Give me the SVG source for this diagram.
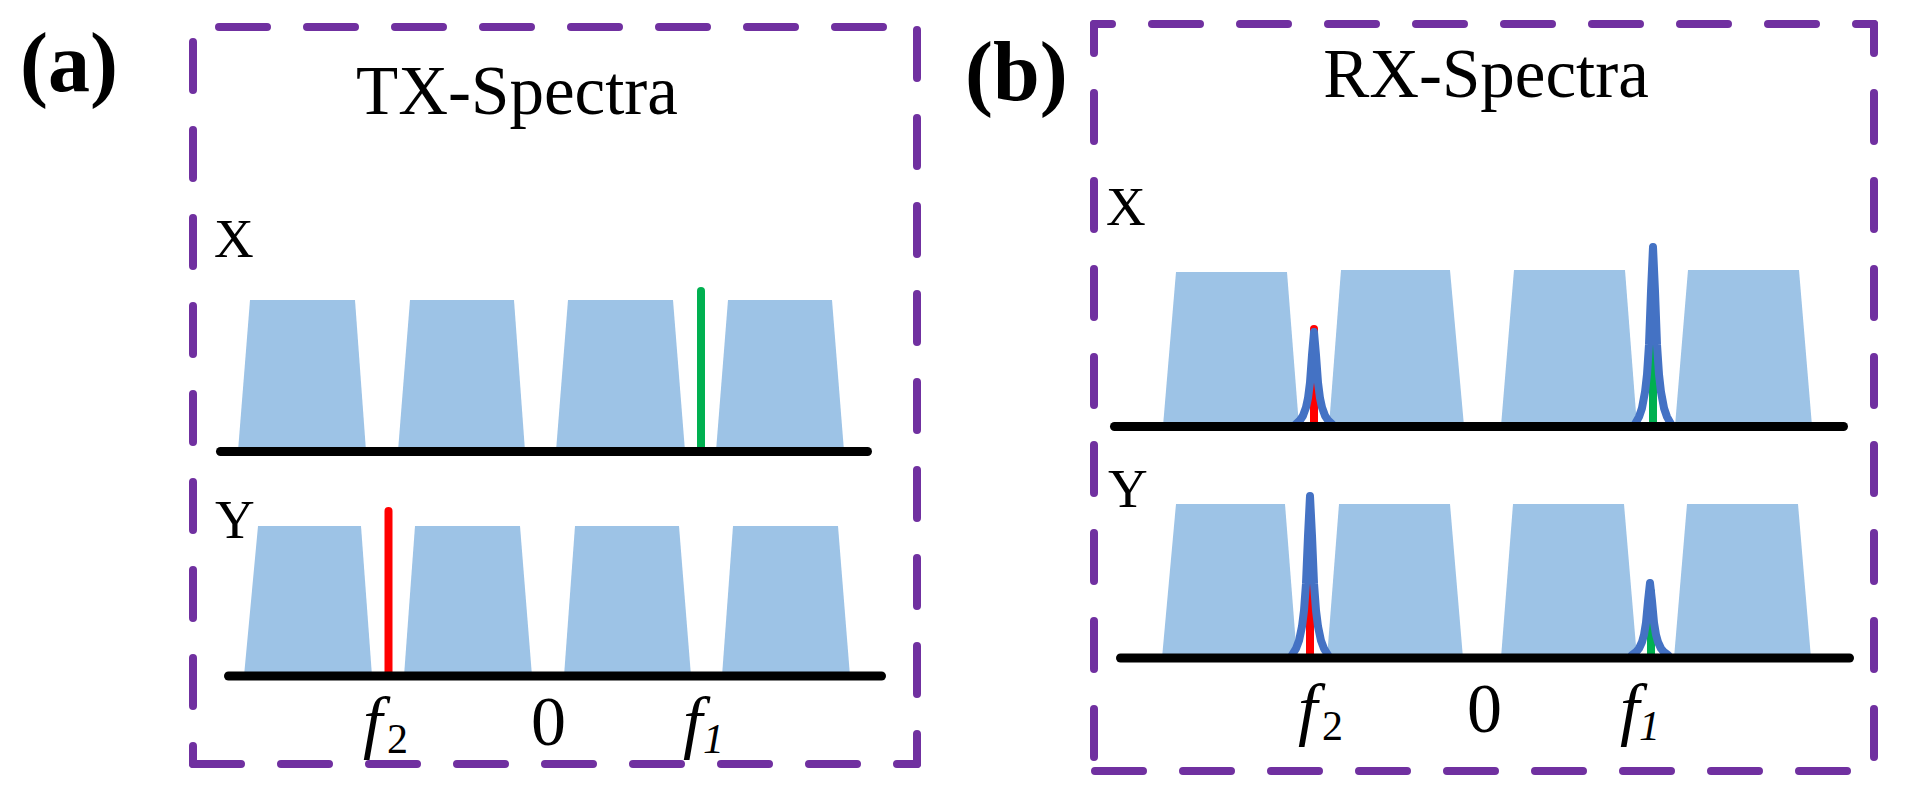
<svg xmlns="http://www.w3.org/2000/svg" width="1905" height="794" viewBox="0 0 1905 794">
<style>
.box{fill:none;stroke:#7030A0;stroke-width:8;stroke-linecap:round;stroke-dasharray:48 40}
.band{fill:#9DC3E6}
.axis{stroke:#000;stroke-width:9;stroke-linecap:round}
.tone-g{stroke:#00B050;stroke-width:8;stroke-linecap:round}
.tone-r{stroke:#FF0000;stroke-width:8;stroke-linecap:round}
.peak{fill:none;stroke:#4472C4;stroke-width:8;stroke-linejoin:round;stroke-linecap:round}
.t{font-family:"Liberation Serif","Times New Roman",serif;fill:#000}
.lbl{font-weight:bold;font-size:84px}
.title{font-size:69px;text-anchor:middle}
.pol{font-size:55px}
.ax{font-size:70px}
.f{font-size:70px;font-style:italic}
.sub{font-size:42px}
.subi{font-size:42px;font-style:italic}
</style>
<rect width="1905" height="794" fill="#fff"/>

<g id="panel-a">
  <g id="frame-a">
    <line class="box" x1="193" y1="27" x2="917" y2="27" stroke-dashoffset="62"/>
    <line class="box" x1="193" y1="27" x2="193" y2="764" stroke-dashoffset="73"/>
    <line class="box" x1="917" y1="27" x2="917" y2="764" stroke-dashoffset="85"/>
    <line class="box" x1="193" y1="764" x2="917" y2="764" stroke-dashoffset="0"/>
  </g>
  <text class="t lbl" x="20" y="91">(a)</text>
  <text class="t title" x="517" y="114">TX-Spectra</text>
  <g id="a-x">
    <text class="t pol" x="214" y="257">X</text>
    <polygon class="band" points="250,300 355,300 366,451 238,451"/>
    <polygon class="band" points="410,300 514,300 525,451 398,451"/>
    <polygon class="band" points="568,300 673,300 685,451 556,451"/>
    <polygon class="band" points="728,300 832,300 844,451 716,451"/>
    <line class="tone-g" x1="701" y1="291" x2="701" y2="451"/>
    <line class="axis" x1="220.5" y1="451.5" x2="867.5" y2="451.5"/>
  </g>
  <g id="a-y">
    <text class="t pol" x="215" y="538">Y</text>
    <polygon class="band" points="258,526 361,526 372,676 244,676"/>
    <polygon class="band" points="415,526 520,526 532,676 404,676"/>
    <polygon class="band" points="575,526 679,526 691,676 564,676"/>
    <polygon class="band" points="733,526 838,526 850,676 722,676"/>
    <line class="tone-r" x1="388.5" y1="511" x2="388.5" y2="676"/>
    <line class="axis" x1="228.5" y1="676" x2="881.5" y2="676"/>
  </g>
  <g id="a-freq">
    <text class="t f" x="363" y="745">f</text><text class="t sub" x="387" y="753">2</text>
    <text class="t ax" x="531" y="745">0</text>
    <text class="t f" x="683" y="745">f</text><text class="t subi" x="703" y="753">1</text>
  </g>
</g>

<g id="panel-b">
  <g id="frame-b">
    <line class="box" x1="1094" y1="24" x2="1874" y2="24" stroke-dashoffset="30"/>
    <line class="box" x1="1094" y1="24" x2="1094" y2="771" stroke-dashoffset="19"/>
    <line class="box" x1="1874" y1="24" x2="1874" y2="771" stroke-dashoffset="19"/>
    <line class="box" x1="1094" y1="771" x2="1874" y2="771" stroke-dashoffset="87"/>
  </g>
  <text class="t lbl" x="965" y="100">(b)</text>
  <text class="t title" x="1486" y="97">RX-Spectra</text>
  <g id="b-x">
    <text class="t pol" x="1106" y="225">X</text>
    <polygon class="band" points="1176,272 1287,272 1299,426 1163,426"/>
    <polygon class="band" points="1341,270 1450,270 1464,426 1329,426"/>
    <polygon class="band" points="1514,270 1625,270 1637,426 1501,426"/>
    <polygon class="band" points="1688,270 1799,270 1812,426 1675,426"/>
    <line class="tone-r" x1="1314" y1="329" x2="1314" y2="426"/>
    <line class="tone-g" x1="1653" y1="255" x2="1653" y2="426"/>
    <polyline class="peak" points="1296,424 1300,420.3 1303,415.7 1306,407.4 1308,398.2 1310,382.6 1312,355 1314,332 1316,355 1318,382.6 1320,398.2 1322,407.4 1325,415.7 1328,420.3 1332,424"/>
    <polyline class="peak" points="1635,424 1639,416.9 1642,408.1 1645,392.1 1647,374.4 1649,344.4 1651,291.3 1653,247 1655,291.3 1657,344.4 1659,374.4 1661,392.1 1664,408.1 1667,416.9 1671,424"/>
    <line class="axis" x1="1114.5" y1="426.5" x2="1843.5" y2="426.5"/>
  </g>
  <g id="b-y">
    <text class="t pol" x="1108" y="507">Y</text>
    <polygon class="band" points="1176,504 1285,504 1297,658 1162,658"/>
    <polygon class="band" points="1339,504 1450,504 1463,658 1327,658"/>
    <polygon class="band" points="1513,504 1624,504 1637,658 1501,658"/>
    <polygon class="band" points="1687,504 1798,504 1811,658 1674,658"/>
    <line class="tone-r" x1="1310" y1="505" x2="1310" y2="658"/>
    <line class="tone-g" x1="1651" y1="592" x2="1651" y2="658"/>
    <polyline class="peak" points="1292,655 1296,648.6 1299,640.7 1302,626.4 1304,610.5 1306,583.5 1308,535.8 1310,496 1312,535.8 1314,583.5 1316,610.5 1318,626.4 1321,640.7 1324,648.6 1328,655"/>
    <polyline class="peak" points="1632,655 1636,652.1 1639,648.5 1642,642 1644,634.8 1646,622.6 1648,601 1650,583 1652,601 1654,622.6 1656,634.8 1658,642 1661,648.5 1664,652.1 1668,655"/>
    <line class="axis" x1="1120.5" y1="658" x2="1849.5" y2="658"/>
  </g>
  <g id="b-freq">
    <text class="t f" x="1298" y="732">f</text><text class="t sub" x="1322" y="740">2</text>
    <text class="t ax" x="1467" y="732">0</text>
    <text class="t f" x="1620" y="732">f</text><text class="t subi" x="1639" y="740">1</text>
  </g>
</g>
</svg>
